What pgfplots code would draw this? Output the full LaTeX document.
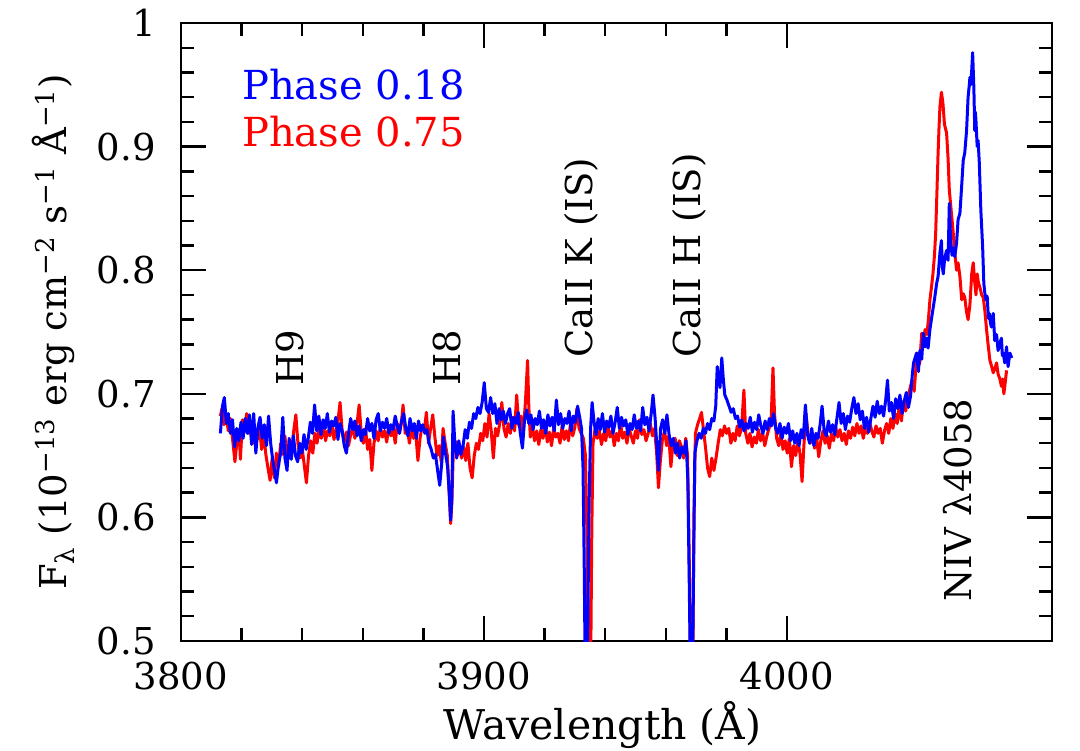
\documentclass[border=0pt]{standalone}
\usepackage{fontspec}
\setmainfont{DejaVu Serif}
\usepackage{pgfplots}
\pgfplotsset{compat=1.18}
\begin{document}
\begin{tikzpicture}
\path[use as bounding box] (-90.5pt,-54.5pt) rectangle (449.5pt,320.5pt);
\begin{axis}[
  at={(0pt,0pt)}, anchor=south west,
  scale only axis, width=435.5pt, height=309pt,
  xmin=3800, xmax=4087.5, ymin=0.5, ymax=1,
  xtick={3800,3900,4000}, ytick={0.5,0.6,0.7,0.8,0.9,1},
  yticklabels={0.5,0.6,0.7,0.8,0.9,1},
  minor x tick num=4, minor y tick num=4,
  tick pos=both, tick align=inside,
  major tick length=12.5pt, minor tick length=6.3pt,
  every tick/.style={black, line width=1.2pt},
  axis line style={line width=1.3pt},
  scaled ticks=false,
  /pgf/number format/1000 sep={},
  /pgf/number format/assume math mode=true,
  ticklabel style={font=\fontsize{18.5}{22}\selectfont, inner sep=0pt},
  xticklabel style={anchor=north, yshift=-10.5pt},
  yticklabel style={anchor=east, xshift=-12.5pt},
  xlabel={Wavelength (Å)},
  xlabel style={font=\fontsize{20.5}{24}\selectfont, at={(axis description cs:0.4839,0)}, anchor=center, yshift=-42pt, inner sep=0pt},
  ylabel={F\textsubscript{λ} (10\textsuperscript{−13} erg cm\textsuperscript{−2} s\textsuperscript{−1} Å\textsuperscript{−1})},
  ylabel style={font=\fontsize{18.5}{22}\selectfont, at={(axis description cs:-0.1464,0.5)}, anchor=center, inner sep=0pt},
  every axis plot/.append style={line width=1.5pt, line join=round},
]
\addplot[red] table {
3813.0 0.682
3813.5 0.688
3814.2 0.675
3814.9 0.684
3815.6 0.670
3816.3 0.680
3817.0 0.664
3817.8 0.645
3818.5 0.662
3819.2 0.671
3819.6 0.647
3820.3 0.679
3821.0 0.672
3821.7 0.684
3822.4 0.668
3823.1 0.675
3823.8 0.660
3824.5 0.671
3825.2 0.663
3825.9 0.674
3826.6 0.655
3827.3 0.668
3828.0 0.651
3828.7 0.640
3829.4 0.630
3830.1 0.648
3830.8 0.632
3831.5 0.652
3832.2 0.641
3832.9 0.660
3833.6 0.651
3834.3 0.666
3835.0 0.648
3835.7 0.658
3836.4 0.650
3837.1 0.668
3837.9 0.683
3838.6 0.660
3839.3 0.648
3840.0 0.656
3840.7 0.642
3841.4 0.628
3842.1 0.650
3842.8 0.662
3843.5 0.652
3844.2 0.668
3844.9 0.660
3845.6 0.672
3846.3 0.664
3847.0 0.675
3847.7 0.662
3848.4 0.670
3849.1 0.666
3849.8 0.676
3850.5 0.663
3851.2 0.671
3851.9 0.680
3852.5 0.693
3853.2 0.670
3853.9 0.661
3854.6 0.669
3855.3 0.658
3856.0 0.667
3856.7 0.672
3857.4 0.664
3858.1 0.676
3858.8 0.691
3859.5 0.668
3860.2 0.660
3860.9 0.672
3861.6 0.655
3862.3 0.663
3863.0 0.638
3863.7 0.660
3864.4 0.670
3865.1 0.662
3865.8 0.673
3866.5 0.665
3867.2 0.670
3867.9 0.661
3868.6 0.674
3869.3 0.666
3870.0 0.672
3870.7 0.660
3871.4 0.676
3872.1 0.668
3872.8 0.678
3873.3 0.691
3874.0 0.668
3874.7 0.672
3875.4 0.660
3876.1 0.674
3876.8 0.664
3877.5 0.668
3878.2 0.646
3878.9 0.664
3879.6 0.674
3880.3 0.670
3881.0 0.685
3881.7 0.660
3882.4 0.672
3883.1 0.683
3883.8 0.665
3884.5 0.650
3885.2 0.658
3885.9 0.645
3886.5 0.672
3887.2 0.660
3887.9 0.650
3888.5 0.620
3889.0 0.595
3889.4 0.612
3889.9 0.655
3890.5 0.662
3891.2 0.650
3891.9 0.658
3892.6 0.648
3893.3 0.657
3894.0 0.646
3894.7 0.660
3895.4 0.640
3896.1 0.632
3896.8 0.650
3897.5 0.660
3898.2 0.655
3898.9 0.668
3899.6 0.662
3900.3 0.676
3901.0 0.665
3901.7 0.684
3902.4 0.670
3903.1 0.648
3903.8 0.672
3904.5 0.666
3905.2 0.676
3905.9 0.693
3906.6 0.672
3907.3 0.665
3908.0 0.676
3908.7 0.668
3909.4 0.681
3910.1 0.670
3910.8 0.699
3911.5 0.674
3912.2 0.682
3912.9 0.668
3913.6 0.690
3914.0 0.708
3914.4 0.727
3914.8 0.690
3915.3 0.665
3916.0 0.673
3916.7 0.662
3917.4 0.670
3918.1 0.659
3918.8 0.671
3919.5 0.664
3920.2 0.676
3920.9 0.661
3921.6 0.669
3922.3 0.658
3923.0 0.672
3923.7 0.665
3924.4 0.668
3925.1 0.660
3925.8 0.674
3926.5 0.663
3927.2 0.670
3927.9 0.662
3928.6 0.677
3929.3 0.666
3930.0 0.673
3930.7 0.688
3931.4 0.672
3932.1 0.668
3932.8 0.664
3933.5 0.650
3933.9 0.600
3934.3 0.520
3934.6 0.460
3935.2 0.470
3935.6 0.590
3936.0 0.660
3936.7 0.672
3937.4 0.664
3938.1 0.670
3938.8 0.659
3939.5 0.668
3940.2 0.662
3940.9 0.674
3941.6 0.665
3942.3 0.670
3943.0 0.658
3943.7 0.668
3944.4 0.662
3945.1 0.676
3945.8 0.664
3946.5 0.669
3947.2 0.660
3947.9 0.672
3948.6 0.666
3949.3 0.660
3950.0 0.670
3950.7 0.664
3951.4 0.679
3952.1 0.667
3952.8 0.671
3953.5 0.662
3954.2 0.668
3954.9 0.676
3955.6 0.666
3956.3 0.672
3957.0 0.652
3957.6 0.624
3958.2 0.645
3958.9 0.663
3959.6 0.670
3960.3 0.658
3961.0 0.666
3961.7 0.641
3962.4 0.660
3963.1 0.664
3963.8 0.650
3964.5 0.662
3965.2 0.657
3965.9 0.648
3966.6 0.664
3967.2 0.650
3967.8 0.560
3968.3 0.460
3968.9 0.470
3969.3 0.600
3969.8 0.668
3970.5 0.675
3971.2 0.680
3971.8 0.685
3972.5 0.670
3973.2 0.655
3973.8 0.640
3974.5 0.633
3975.2 0.648
3975.9 0.638
3976.6 0.648
3977.3 0.660
3978.0 0.671
3978.7 0.666
3979.4 0.674
3980.1 0.668
3980.8 0.672
3981.5 0.660
3982.2 0.668
3982.9 0.662
3983.6 0.674
3984.3 0.666
3985.0 0.672
3985.8 0.703
3986.4 0.668
3987.1 0.660
3987.8 0.668
3988.5 0.657
3989.2 0.665
3989.9 0.660
3990.6 0.671
3991.3 0.662
3992.0 0.668
3992.7 0.658
3993.4 0.666
3994.1 0.672
3994.8 0.680
3995.4 0.721
3995.9 0.684
3996.6 0.664
3997.3 0.658
3998.0 0.668
3998.7 0.655
3999.4 0.662
4000.1 0.652
4000.8 0.664
4001.5 0.641
4002.2 0.658
4002.9 0.650
4003.6 0.662
4004.3 0.652
4005.0 0.629
4005.6 0.658
4006.3 0.684
4007.0 0.667
4007.7 0.660
4008.4 0.668
4009.1 0.656
4009.8 0.665
4010.5 0.649
4011.2 0.662
4011.9 0.670
4012.6 0.660
4013.3 0.666
4014.0 0.656
4014.7 0.668
4015.4 0.662
4016.1 0.673
4016.8 0.665
4017.5 0.671
4018.2 0.662
4018.9 0.668
4019.6 0.659
4020.3 0.670
4021.0 0.664
4021.7 0.673
4022.4 0.666
4023.1 0.676
4023.8 0.668
4024.5 0.674
4025.2 0.664
4025.9 0.672
4026.6 0.668
4027.3 0.677
4028.0 0.670
4028.7 0.665
4029.4 0.674
4030.1 0.668
4030.8 0.672
4031.5 0.660
4032.2 0.670
4032.9 0.676
4033.6 0.668
4034.3 0.680
4035.0 0.672
4035.7 0.684
4036.4 0.676
4037.1 0.690
4037.8 0.678
4038.5 0.694
4039.2 0.686
4039.9 0.698
4040.6 0.704
4041.3 0.711
4042.0 0.702
4042.6 0.722
4043.2 0.733
4043.8 0.724
4044.5 0.749
4045.1 0.740
4045.6 0.752
4046.2 0.748
4046.7 0.760
4047.2 0.776
4047.7 0.786
4048.2 0.797
4048.7 0.812
4049.1 0.830
4049.5 0.862
4049.9 0.895
4050.2 0.915
4050.5 0.932
4051.0 0.944
4051.5 0.935
4052.0 0.918
4052.7 0.911
4053.2 0.890
4053.6 0.865
4054.3 0.846
4054.9 0.830
4055.4 0.814
4056.0 0.800
4056.5 0.806
4057.1 0.795
4057.7 0.776
4058.2 0.781
4058.7 0.778
4059.3 0.766
4059.8 0.760
4060.4 0.772
4061.0 0.797
4061.5 0.806
4062.0 0.790
4062.4 0.780
4062.8 0.797
4063.2 0.790
4063.7 0.786
4064.3 0.780
4064.8 0.778
4065.3 0.768
4065.9 0.752
4066.4 0.740
4067.0 0.727
4067.6 0.722
4068.1 0.717
4068.6 0.720
4069.2 0.725
4069.7 0.716
4070.3 0.712
4070.8 0.706
4071.2 0.712
4071.6 0.700
4072.0 0.708
4072.5 0.719
};
\addplot[blue] table {
3813.0 0.668
3813.7 0.690
3814.3 0.697
3815.0 0.676
3815.6 0.684
3816.3 0.668
3817.0 0.679
3817.7 0.657
3818.4 0.672
3819.1 0.662
3819.8 0.677
3820.5 0.664
3821.2 0.680
3821.9 0.668
3822.6 0.683
3823.3 0.659
3824.0 0.684
3824.7 0.652
3825.4 0.673
3826.1 0.681
3826.8 0.664
3827.5 0.675
3828.2 0.658
3828.9 0.682
3829.6 0.660
3830.3 0.646
3831.0 0.636
3831.5 0.628
3832.2 0.643
3832.9 0.652
3833.6 0.681
3834.3 0.648
3835.0 0.638
3835.7 0.664
3836.4 0.647
3837.1 0.666
3837.8 0.650
3838.5 0.645
3839.2 0.660
3839.9 0.652
3840.6 0.667
3841.3 0.655
3842.0 0.664
3842.7 0.677
3843.4 0.668
3844.1 0.691
3844.8 0.670
3845.5 0.682
3846.2 0.667
3846.9 0.679
3847.6 0.672
3848.3 0.684
3849.0 0.669
3849.7 0.678
3850.4 0.674
3851.1 0.681
3851.8 0.663
3852.5 0.676
3853.2 0.670
3853.9 0.658
3854.6 0.652
3855.3 0.668
3856.0 0.680
3856.7 0.671
3857.4 0.678
3858.1 0.666
3858.8 0.674
3859.5 0.662
3860.2 0.671
3860.9 0.667
3861.6 0.680
3862.3 0.670
3863.0 0.676
3863.7 0.664
3864.4 0.679
3865.1 0.684
3865.8 0.670
3866.5 0.677
3867.2 0.672
3867.9 0.680
3868.6 0.668
3869.3 0.675
3870.0 0.671
3870.7 0.682
3871.4 0.674
3872.1 0.668
3872.8 0.678
3873.5 0.684
3874.2 0.672
3874.9 0.666
3875.6 0.680
3876.3 0.670
3877.0 0.676
3877.7 0.664
3878.4 0.678
3879.1 0.670
3879.8 0.675
3880.5 0.668
3881.2 0.671
3881.9 0.660
3882.6 0.655
3883.3 0.648
3884.0 0.651
3884.7 0.638
3885.4 0.626
3886.1 0.645
3886.6 0.665
3887.3 0.652
3888.0 0.641
3888.6 0.618
3889.0 0.598
3889.4 0.615
3889.8 0.686
3890.4 0.660
3891.0 0.648
3891.7 0.662
3892.4 0.651
3893.1 0.658
3893.8 0.671
3894.5 0.664
3895.2 0.677
3895.9 0.672
3896.6 0.684
3897.3 0.680
3898.0 0.689
3898.7 0.684
3899.4 0.693
3900.1 0.709
3900.8 0.688
3901.5 0.685
3902.2 0.697
3902.9 0.684
3903.6 0.692
3904.3 0.676
3905.0 0.688
3905.7 0.679
3906.4 0.686
3907.1 0.676
3907.8 0.684
3908.5 0.688
3909.2 0.672
3909.9 0.681
3910.6 0.676
3911.3 0.685
3912.0 0.668
3912.7 0.656
3913.4 0.679
3914.1 0.687
3914.8 0.676
3915.5 0.683
3916.2 0.671
3916.9 0.680
3917.6 0.675
3918.3 0.686
3919.0 0.672
3919.7 0.679
3920.4 0.668
3921.1 0.683
3921.8 0.674
3922.5 0.681
3923.2 0.670
3923.9 0.695
3924.6 0.675
3925.3 0.684
3926.0 0.672
3926.7 0.680
3927.4 0.676
3928.1 0.686
3928.8 0.670
3929.5 0.682
3930.2 0.677
3930.9 0.690
3931.6 0.681
3932.2 0.672
3932.7 0.640
3933.1 0.560
3933.4 0.480
3934.0 0.460
3934.3 0.520
3934.7 0.610
3935.2 0.672
3935.7 0.693
3936.3 0.678
3937.0 0.667
3937.7 0.680
3938.4 0.671
3939.1 0.684
3939.8 0.669
3940.5 0.678
3941.2 0.673
3941.9 0.682
3942.6 0.668
3943.3 0.677
3944.0 0.689
3944.7 0.672
3945.4 0.681
3946.1 0.674
3946.8 0.679
3947.5 0.667
3948.2 0.676
3948.9 0.671
3949.6 0.683
3950.3 0.672
3951.0 0.678
3951.7 0.670
3952.4 0.689
3953.1 0.675
3953.8 0.681
3954.5 0.670
3955.2 0.684
3955.8 0.699
3956.5 0.680
3957.2 0.652
3957.6 0.638
3958.3 0.672
3959.0 0.679
3959.7 0.668
3960.4 0.683
3961.1 0.667
3961.8 0.658
3962.5 0.664
3963.2 0.652
3963.9 0.660
3964.6 0.648
3965.3 0.657
3966.0 0.652
3966.7 0.662
3967.3 0.630
3967.8 0.540
3968.2 0.460
3968.8 0.460
3969.2 0.560
3969.6 0.652
3970.3 0.662
3971.0 0.668
3971.7 0.664
3972.4 0.672
3973.1 0.668
3973.8 0.676
3974.5 0.671
3975.2 0.680
3975.9 0.678
3976.5 0.690
3977.0 0.722
3977.5 0.712
3977.9 0.705
3978.5 0.729
3979.0 0.712
3979.5 0.699
3980.2 0.695
3980.9 0.690
3981.6 0.685
3982.3 0.688
3983.0 0.680
3983.7 0.682
3984.4 0.673
3985.1 0.679
3985.8 0.670
3986.5 0.676
3987.2 0.672
3987.9 0.681
3988.6 0.669
3989.3 0.677
3990.0 0.671
3990.7 0.683
3991.4 0.674
3992.1 0.668
3992.8 0.678
3993.5 0.671
3994.2 0.680
3994.9 0.674
3995.6 0.684
3996.3 0.672
3997.0 0.668
3997.7 0.676
3998.4 0.664
3999.1 0.673
3999.8 0.668
4000.5 0.676
4001.2 0.662
4001.9 0.670
4002.6 0.660
4003.3 0.668
4004.0 0.658
4004.7 0.671
4005.4 0.664
4006.1 0.691
4006.8 0.667
4007.5 0.660
4008.2 0.672
4008.9 0.658
4009.6 0.668
4010.3 0.664
4011.0 0.676
4011.6 0.690
4012.3 0.670
4013.0 0.666
4013.7 0.678
4014.4 0.669
4015.1 0.675
4015.8 0.667
4016.5 0.680
4017.2 0.693
4017.9 0.676
4018.6 0.684
4019.3 0.671
4020.0 0.682
4020.7 0.677
4021.4 0.688
4022.1 0.697
4022.8 0.684
4023.5 0.692
4024.2 0.679
4024.9 0.686
4025.6 0.672
4026.3 0.681
4027.0 0.669
4027.7 0.680
4028.4 0.690
4029.1 0.681
4029.8 0.694
4030.5 0.684
4031.2 0.690
4031.9 0.682
4032.6 0.695
4033.2 0.711
4033.8 0.686
4034.5 0.693
4035.2 0.680
4035.9 0.696
4036.6 0.688
4037.3 0.699
4038.0 0.684
4038.7 0.694
4039.4 0.701
4040.1 0.689
4040.8 0.698
4041.4 0.716
4041.8 0.725
4042.8 0.733
4043.4 0.718
4043.9 0.735
4044.5 0.728
4045.0 0.749
4045.6 0.738
4046.1 0.745
4046.6 0.737
4047.2 0.752
4047.8 0.762
4048.3 0.770
4048.8 0.778
4049.4 0.789
4049.9 0.795
4050.5 0.814
4051.0 0.824
4051.3 0.803
4051.6 0.797
4052.1 0.810
4052.7 0.816
4053.2 0.808
4053.6 0.854
4054.0 0.826
4054.5 0.812
4054.9 0.818
4055.4 0.811
4056.0 0.822
4056.5 0.841
4057.1 0.846
4057.6 0.865
4058.2 0.889
4058.7 0.895
4059.3 0.913
4059.8 0.940
4060.2 0.950
4060.4 0.956
4060.7 0.950
4061.0 0.962
4061.3 0.976
4061.7 0.948
4062.0 0.913
4062.2 0.928
4062.4 0.921
4062.8 0.900
4063.1 0.905
4063.5 0.887
4064.0 0.849
4064.6 0.819
4065.0 0.789
4065.3 0.782
4065.7 0.776
4066.1 0.779
4066.5 0.761
4066.8 0.765
4067.2 0.757
4067.5 0.754
4067.8 0.760
4068.1 0.765
4068.6 0.743
4069.2 0.748
4069.7 0.735
4070.2 0.740
4070.8 0.745
4071.1 0.731
4071.4 0.733
4071.9 0.725
4072.5 0.738
4073.0 0.722
4073.6 0.733
4074.2 0.729
};
\begin{scope}[every node/.style={font=\fontsize{18.5}{22}\selectfont, inner sep=0pt}]
\node[blue, anchor=base west, font=\fontsize{20}{24}\selectfont] at (axis cs:3820.1,0.9385) {Phase 0.18};
\node[red, anchor=base west, font=\fontsize{20}{24}\selectfont] at (axis cs:3820.1,0.8998) {Phase 0.75};
\node[rotate=90, anchor=west] at (axis cs:3836.0,0.706) {H9};
\node[rotate=90, anchor=west] at (axis cs:3887.8,0.706) {H8};
\node[rotate=90, anchor=west] at (axis cs:3932.0,0.729) {CaII K (IS)};
\node[rotate=90, anchor=west] at (axis cs:3967.7,0.729) {CaII H (IS)};
\node[rotate=90, anchor=west] at (axis cs:4056.3,0.5316) {NIV λ4058};
\end{scope}
\end{axis}
\end{tikzpicture}
\end{document}
